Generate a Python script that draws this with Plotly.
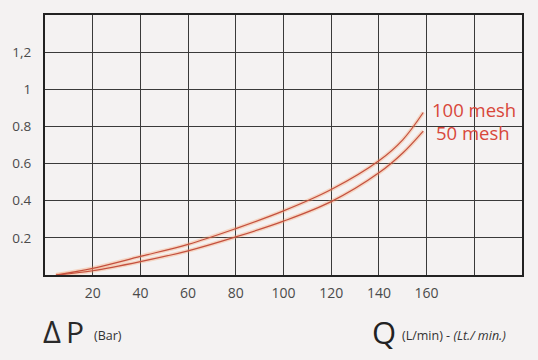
import plotly.graph_objects as go

# Data
flow_q = [4.6, 20, 40, 60, 80, 100, 120, 140, 150, 158.6]
dp_100_mesh = [0.0, 0.036, 0.10, 0.165, 0.25, 0.345, 0.46, 0.615, 0.728, 0.875]
dp_50_mesh = [0.0, 0.023, 0.072, 0.13, 0.205, 0.29, 0.395, 0.55, 0.657, 0.775]

x_tick_vals = [20, 40, 60, 80, 100, 120, 140, 160, 180]
x_tick_text = ["20", "40", "60", "80", "100", "120", "140", "160", ""]
y_tick_vals = [0.2, 0.4, 0.6, 0.8, 1.0, 1.2]
y_tick_text = ["0.2", "0.4", "0.6", "0.8", "1", "1,2"]
series_names = ["100 mesh", "50 mesh"]

RED = "#d8473a"
LINE = "#c4503e"
BG = "#f4f2f2"
FONT = "Open Sans"

fig = go.Figure()
for ys in (dp_100_mesh, dp_50_mesh):
    fig.add_trace(go.Scatter(x=flow_q, y=ys, mode="lines",
                             line=dict(color="rgba(245,160,110,0.35)", width=4, shape="spline"),
                             hoverinfo="skip", showlegend=False))
for ys, name in zip((dp_100_mesh, dp_50_mesh), series_names):
    fig.add_trace(go.Scatter(x=flow_q, y=ys, mode="lines", name=name,
                             line=dict(color=LINE, width=1.2, shape="spline"), showlegend=False))

fig.add_annotation(x=161.5, y=0.89, xref="x", yref="y", text=series_names[0], showarrow=False,
                   xanchor="left", yanchor="middle", font=dict(family=FONT, size=18.5, color=RED))
fig.add_annotation(x=163.0, y=0.765, xref="x", yref="y", text=series_names[1], showarrow=False,
                   xanchor="left", yanchor="middle", font=dict(family=FONT, size=18.5, color=RED))


def px_x(p):
    return (p - 45) / 477.0


def px_y(p):
    return (275 - p) / 260.0


fig.add_annotation(x=px_x(41), y=px_y(331), xref="paper", yref="paper", text="Δ", showarrow=False,
                   xanchor="left", yanchor="middle", font=dict(family=FONT, size=31, color="#2a2a2a"))
fig.add_annotation(x=px_x(64), y=px_y(331), xref="paper", yref="paper", text="P", showarrow=False,
                   xanchor="left", yanchor="middle", font=dict(family=FONT, size=30, color="#2a2a2a"))
fig.add_annotation(x=px_x(92), y=px_y(335), xref="paper", yref="paper", text="(Bar)", showarrow=False,
                   xanchor="left", yanchor="middle", font=dict(family=FONT, size=12.5, color="#333333"))
fig.add_annotation(x=px_x(370), y=px_y(332), xref="paper", yref="paper", text="Q", showarrow=False,
                   xanchor="left", yanchor="middle", font=dict(family=FONT, size=31, color="#222222"))
fig.add_annotation(x=px_x(400), y=px_y(335), xref="paper", yref="paper",
                   text="(L/min) - <i>(Lt./ min.)</i>", showarrow=False,
                   xanchor="left", yanchor="middle", font=dict(family=FONT, size=12.5, color="#333333"))

fig.update_layout(
    width=538, height=360,
    margin=dict(l=45, r=16, t=15, b=85),
    paper_bgcolor=BG, plot_bgcolor=BG,
    font=dict(family=FONT, color="#444444"),
    xaxis=dict(range=[0, 200], tickvals=x_tick_vals, ticktext=x_tick_text, showgrid=True,
               gridcolor="#3a3a3a", gridwidth=1, zeroline=False, showline=True, linecolor="#222222",
               linewidth=2, mirror=True, ticks="", ticklabelstandoff=4,
               tickfont=dict(size=14, color="#4a4a4a")),
    yaxis=dict(range=[0, 1.4], tickvals=y_tick_vals, ticktext=y_tick_text, showgrid=True,
               gridcolor="#3a3a3a", gridwidth=1, zeroline=False, showline=True, linecolor="#222222",
               linewidth=2, mirror=True, ticks="", ticklabelstandoff=9,
               tickfont=dict(size=13.5, color="#4a4a4a")),
)

fig.write_html("out.html", config={"displayModeBar": False},
               post_script="document.body.style.margin='0';document.body.style.background='#f4f2f2';")
